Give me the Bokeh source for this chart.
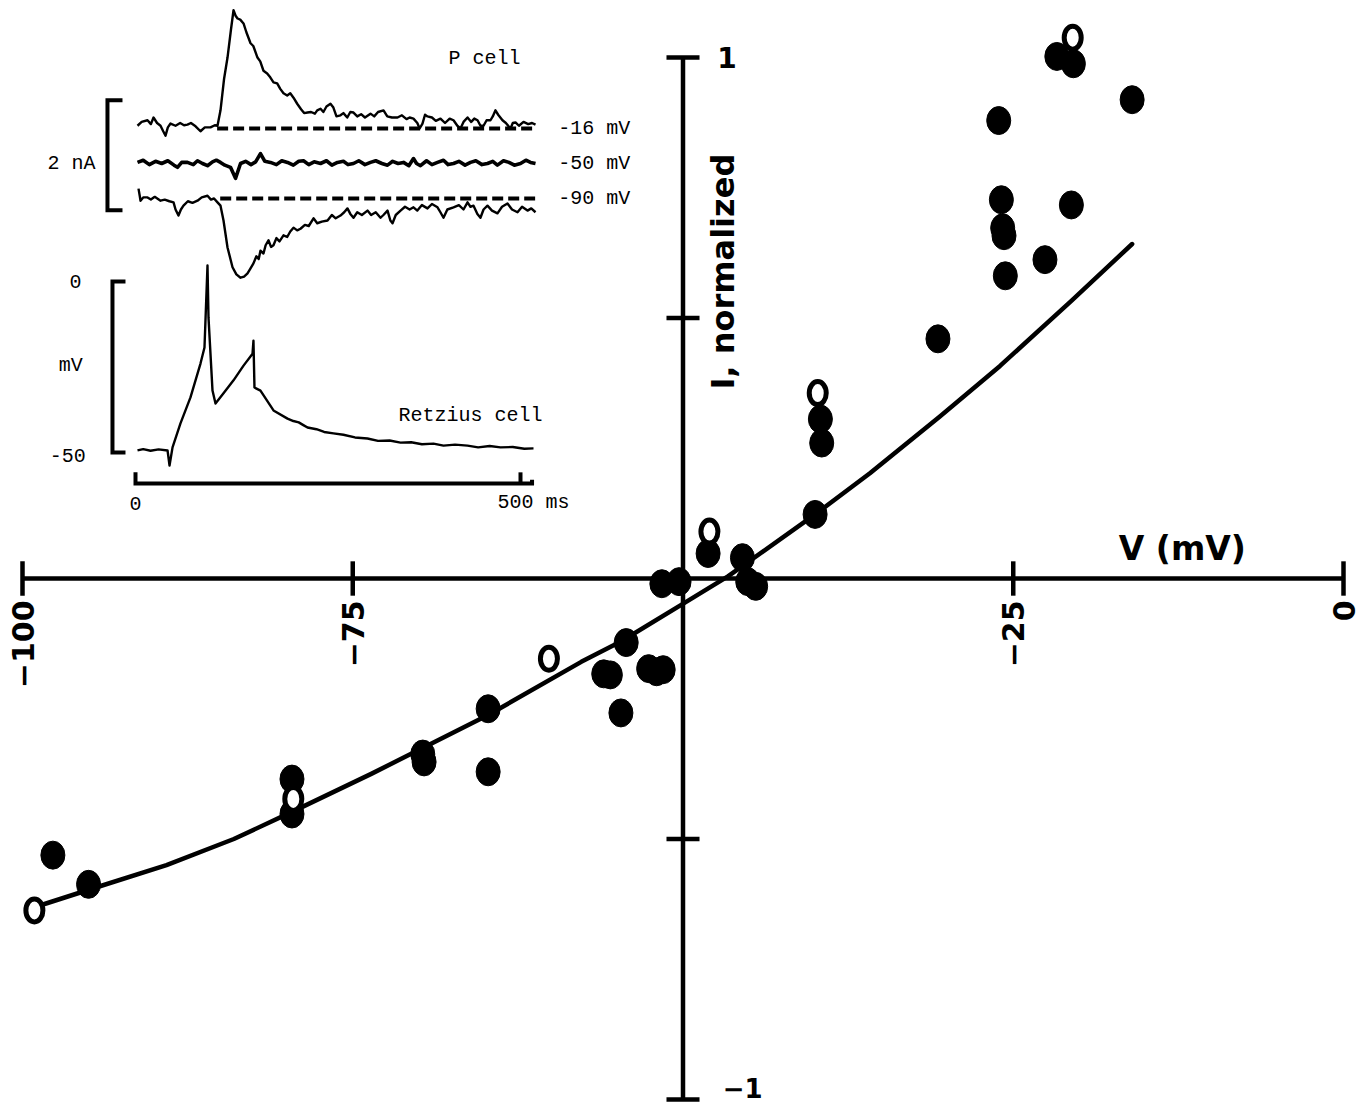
import math
from bokeh.plotting import figure
from bokeh.models import Range1d, Label
from bokeh.embed import file_html
from bokeh.resources import INLINE
from bokeh.core.properties import value

# ---------------- main I-V data (V in mV, I normalized) ----------------
curve_v = [-99.1, -94.8, -89.1, -84.0, -79.6, -73.6, -64.75, -57.7, -54.7,
           -49.7, -46.6, -40.0, -35.85, -30.6, -26.0, -20.6, -16.0]
curve_i = [-0.631, -0.596, -0.550, -0.500, -0.448, -0.375, -0.262, -0.160, -0.121,
           -0.044, 0.004, 0.123, 0.202, 0.310, 0.408, 0.533, 0.642]

filled_v = [-97.7, -95.0, -79.6, -79.6, -69.7, -69.6, -64.75, -64.75, -56.0, -55.5,
            -54.7, -54.3, -52.6, -52.0, -51.5, -51.6, -50.3, -48.1, -45.5, -45.1,
            -44.5, -40.0, -39.6, -39.5, -30.7, -26.1, -25.9, -25.8, -25.7, -25.6,
            -22.6, -21.7, -20.45, -20.6, -16.0]
filled_i = [-0.531, -0.587, -0.385, -0.452, -0.337, -0.352, -0.250, -0.371, -0.183, -0.185,
            -0.258, -0.123, -0.173, -0.179, -0.175, -0.010, -0.006, 0.048, 0.040, -0.006,
            -0.015, 0.123, 0.306, 0.260, 0.460, 0.879, 0.727, 0.673, 0.658, 0.581,
            0.612, 1.002, 0.988, 0.717, 0.919]

open_v = [-99.1, -79.5, -60.15, -48.0, -39.8, -20.5]
open_i = [-0.637, -0.423, -0.154, 0.090, 0.356, 1.038]

xtick_v = [-100, -75, -25, 0]
xtick_labels = ["\u2212100", "\u221275", "\u221225", "0"]
ytick_i = [1, 0.5, -0.5, -1]

# ---------------- inset: P cell currents, (t ms, I nA) ----------------
trace_m16 = [(2.6, 0.05), (8, 0.12), (15.6, 0.15), (20, 0.08), (23.4, 0.2), (28, 0.1),
             (32.5, 0.05), (36, -0.05), (39, -0.13), (42, 0.02), (45.5, 0.09), (52, 0.05),
             (58, 0.1), (63, 0.06), (67.5, 0.07), (72, 0.1), (78, 0.04), (84.4, -0.05),
             (90, 0.02), (97.4, 0.02), (103, 0.06), (106.5, 0.05), (110.4, 0.33), (115, 0.9),
             (119.5, 1.29), (124, 1.8), (127.3, 2.15), (130, 2.05), (132.5, 2.0), (136, 1.98),
             (140.3, 1.91), (144, 1.75), (149.4, 1.55), (153, 1.5), (158.4, 1.29), (162, 1.22),
             (166.2, 1.05), (171, 1.0), (175, 0.93), (179.2, 0.84), (184, 0.82), (188, 0.72),
             (192.2, 0.64), (197, 0.6), (201, 0.64), (205.2, 0.56), (210, 0.45), (215, 0.35),
             (219, 0.28), (223.4, 0.29), (228, 0.3), (233, 0.27), (236, 0.33), (240.3, 0.36),
             (244, 0.3), (248, 0.4), (253.2, 0.45), (257, 0.38), (261, 0.22), (266.2, 0.24),
             (270, 0.28), (275, 0.2), (279, 0.3), (283.1, 0.29), (288, 0.22), (293, 0.26),
             (298, 0.2), (305.2, 0.27), (310, 0.22), (315, 0.3), (322.1, 0.33), (327, 0.22),
             (333, 0.2), (340.3, 0.2), (346, 0.24), (352, 0.17), (356, 0.2), (361, 0.18),
             (366, 0.1), (369, 0.0), (372.7, 0.09), (376, 0.25), (379.2, 0.22), (385, 0.2),
             (390, 0.14), (396.1, 0.18), (402, 0.1), (408, 0.18), (413, 0.15), (418, 0.05),
             (422, 0.0), (426, 0.12), (431.2, 0.2), (436, 0.12), (440, 0.18), (444.2, 0.15),
             (448, 0.05), (452, 0.05), (456, 0.15), (461, 0.15), (464, 0.22), (467.5, 0.33),
             (471, 0.25), (476.6, 0.15), (481, 0.1), (487, 0.0), (490, 0.1), (493.5, 0.11),
             (498, 0.05), (503.9, 0.12), (510, 0.08), (515, 0.1), (519.5, 0.07)]

trace_m50 = [(2.6, 0.02), (10, 0.06), (18, -0.02), (26, 0.04), (34, 0.0), (42, 0.05),
             (50, -0.03), (54.5, -0.07), (60, 0.02), (67.5, 0.02), (75, -0.02), (80.5, 0.05),
             (87, 0.0), (93.5, -0.04), (100, 0.03), (105, 0.06), (110.4, 0.02), (116, -0.03),
             (123.4, -0.07), (129.9, -0.27), (136.4, 0.0), (143, 0.04), (150, -0.02),
             (156, 0.03), (162.3, 0.18), (168, 0.04), (175.3, 0.02), (183, -0.02), (190, 0.05),
             (197.4, 0.02), (205, -0.03), (212, 0.04), (218.2, 0.05), (225, -0.02), (232, 0.03),
             (240.3, 0.0), (248, 0.05), (255, -0.03), (262.3, 0.02), (270, 0.04), (276, -0.02),
             (283.1, 0.0), (290, 0.05), (298, -0.02), (305.2, 0.02), (312, 0.05), (320, 0.0),
             (327.3, -0.03), (334, 0.04), (341, 0.0), (348.1, 0.02), (355, -0.04), (361, 0.09),
             (365, 0.0), (370.1, -0.04), (378, 0.05), (385, -0.02), (392.2, 0.02), (400, 0.06),
             (406, -0.02), (413, 0.0), (420, 0.04), (428, -0.03), (435.1, 0.02), (442, 0.05),
             (450, -0.02), (457.1, 0.0), (464, 0.04), (470, -0.03), (477.9, 0.05), (485, 0.02),
             (492, -0.03), (500, 0.0), (507, 0.06), (513, 0.02), (519.5, 0.0)]

trace_m90 = [(3.9, 0.18), (5.5, 0.05), (6.5, -0.04), (10, 0.02), (15.6, 0.02), (20, -0.02),
             (25, 0.03), (32.5, -0.04), (38, -0.02), (44, -0.05), (49.4, -0.07), (52, -0.2),
             (55.8, -0.31), (59, -0.2), (62.3, -0.13), (68, -0.05), (74, -0.08), (80.5, -0.04),
             (86, 0.02), (93.5, 0.05), (98, -0.02), (102, 0.0), (106.5, -0.07), (110.4, -0.13),
             (114.3, -0.40), (119.5, -0.89), (126, -1.25), (131, -1.38), (136.4, -1.44),
             (141, -1.42), (145.5, -1.36), (149, -1.28), (153.2, -1.18), (157, -1.05),
             (160, -1.1), (162.3, -0.95), (166.2, -1.0), (169, -0.85), (172.7, -0.76),
             (176, -0.88), (179.2, -0.85), (183, -0.72), (187, -0.78), (192.2, -0.67),
             (197, -0.7), (201, -0.6), (205.2, -0.53), (210, -0.58), (214.3, -0.55),
             (220, -0.48), (225, -0.5), (231.2, -0.36), (236, -0.45), (242, -0.42),
             (249.4, -0.40), (255, -0.3), (260, -0.36), (266.2, -0.31), (271, -0.25),
             (275.3, -0.18), (279, -0.28), (283.1, -0.35), (288, -0.25), (294, -0.3),
             (301.3, -0.22), (306, -0.3), (312, -0.25), (318.2, -0.35), (322, -0.3),
             (327.3, -0.22), (331, -0.4), (333.8, -0.45), (338, -0.3), (344.2, -0.22),
             (350, -0.15), (356, -0.2), (361, -0.16), (366, -0.22), (372, -0.12),
             (379.2, -0.18), (385, -0.1), (392.2, -0.16), (396, -0.25), (400, -0.35),
             (405, -0.2), (413, -0.16), (420, -0.12), (426, -0.2), (431.2, -0.07),
             (435, -0.15), (439, -0.13), (444, -0.28), (448, -0.35), (452, -0.2),
             (457.1, -0.13), (463, -0.22), (470.1, -0.27), (476, -0.15), (483.1, -0.09),
             (489, -0.2), (496.1, -0.25), (502, -0.15), (509.1, -0.22), (514, -0.18),
             (519.5, -0.25)]

# ---------------- inset: Retzius cell voltage, (t ms, V mV) ----------------
trace_retzius = [(2.6, -49.4), (10, -49.0), (19.5, -49.5), (30, -49.1), (41.6, -49.4),
                 (44.2, -53.8), (48.1, -48.5), (58.4, -41.5), (71.4, -33.9), (84.4, -24.0),
                 (89.6, -19.3), (93.5, 4.7), (94.8, -10.5), (100, -31.9), (103.9, -35.7),
                 (114.3, -32.7), (127.3, -28.9), (140.3, -24.6), (152, -21.1), (153.2, -17.3),
                 (154.5, -31.0), (162.3, -31.9), (179.2, -37.7), (197.4, -40.1), (205, -40.8),
                 (212, -41.2), (218, -42.0), (223.4, -42.7), (235, -43.2), (245, -44.0),
                 (257.1, -44.4), (270, -44.8), (285, -45.6), (301.3, -45.9), (315, -46.6),
                 (330, -46.5), (344.2, -47.1), (358, -47.0), (372, -47.6), (387, -47.4),
                 (400, -48.0), (415, -47.7), (431.2, -48.0), (445, -48.5), (460, -48.1),
                 (474, -48.5), (490, -48.4), (505, -48.9), (516.9, -48.8)]

# ---------------- layout ----------------
W, H, M = 1362, 1110, 0


def xr(v0, px0, s):
    return Range1d(v0 + (M - px0) / s, v0 + (M + W - px0) / s)


def yr(v0, px0, s):
    return Range1d(v0 + (px0 - (M + H)) / s, v0 + (px0 - M) / s)


def unzip(pairs):
    return [a for a, _ in pairs], [b for _, b in pairs]


p = figure(width=W, height=H, x_range=xr(-100, 22, 13.21), y_range=yr(0, 578, 521),
           x_axis_type=None, y_axis_type=None, output_backend="svg",
           toolbar_location=None, min_border=0, outline_line_color=None)
p.grid.visible = False
p.background_fill_color = "white"
p.border_fill_color = "white"

p.extra_x_ranges = {"ms": xr(0, 135, 0.77)}
p.extra_y_ranges = {"i16": yr(0, 128, 55), "i50": yr(0, 163, 55),
                    "i90": yr(0, 198, 55), "mv": yr(0, 281, 3.42)}

AX = 4.5
SANS = "DejaVu Sans"
MONO = "Liberation Mono"

# main axes
p.line([xtick_v[0], xtick_v[-1]], [0, 0], line_width=AX, line_color="black")
p.segment(x0=xtick_v, y0=[-0.033] * 4, x1=xtick_v, y1=[0.033] * 4,
          line_width=AX, line_color="black")
p.line([-50, -50], [ytick_i[-1], ytick_i[0]], line_width=AX, line_color="black")
p.segment(x0=[-51.25] * 4, y0=ytick_i, x1=[-48.75] * 4, y1=ytick_i,
          line_width=AX, line_color="black")

p.text(x=xtick_v, y=[-0.042] * 4, text=xtick_labels, angle=math.pi / 2,
       text_align="right", text_baseline="middle", text_font=value(SANS),
       text_font_style="bold", text_font_size="30px", text_color="black")

p.add_layout(Label(x=-47.4, y=1.0, text="1", text_align="left", text_baseline="middle",
                   text_font=SANS, text_font_style="bold", text_font_size="28px",
                   text_color="black"))
p.add_layout(Label(x=-47.0, y=-0.978, text="\u22121", text_align="left",
                   text_baseline="middle", text_font=SANS, text_font_style="bold",
                   text_font_size="26px", text_color="black"))
p.add_layout(Label(x=-47.0, y=0.589, text="I, normalized", angle=math.pi / 2,
                   text_align="center", text_baseline="middle",
                   text_font=SANS, text_font_style="bold", text_font_size="32px",
                   text_color="black"))
p.add_layout(Label(x=-12.2, y=0.058, text="V (mV)", text_align="center",
                   text_baseline="middle", text_font=SANS, text_font_style="bold",
                   text_font_size="33px", text_color="black"))

# fitted curve and data
p.line(curve_v, curve_i, line_width=4.5, line_color="black", line_join="round",
       line_cap="round")
p.ellipse(x=filled_v, y=filled_i, width=24, height=28, width_units="screen",
          height_units="screen", fill_color="black", line_color="black", line_width=1)
p.ellipse(x=open_v, y=open_i, width=17, height=23, width_units="screen",
          height_units="screen", fill_color="white", line_color="black", line_width=5)

# ---------------- inset ----------------
TW = 2.4
t, v = unzip(trace_m16)
p.line(t, v, x_range_name="ms", y_range_name="i16", line_width=TW,
       line_color="black", line_join="round")
t, v = unzip(trace_m50)
p.line(t, v, x_range_name="ms", y_range_name="i50", line_width=TW + 1.2,
       line_color="black", line_join="round")
t, v = unzip(trace_m90)
p.line(t, v, x_range_name="ms", y_range_name="i90", line_width=TW,
       line_color="black", line_join="round")
p.line([106, 519], [0, 0], x_range_name="ms", y_range_name="i16", line_width=4,
       line_color="black", line_dash="11 5")
p.line([110, 519], [0, 0], x_range_name="ms", y_range_name="i90", line_width=4,
       line_color="black", line_dash="11 5")

t, v = unzip(trace_retzius)
p.line(t, v, x_range_name="ms", y_range_name="mv", line_width=TW,
       line_color="black", line_join="round")

# 2 nA scale bracket
p.line([-16.9, -36.4, -36.4, -16.9], [1.15, 1.15, -0.85, -0.85], x_range_name="ms",
       y_range_name="i50", line_width=4, line_color="black", line_join="miter")
# mV scale bracket (0 to -50 mV)
p.line([-13.0, -29.9, -29.9, -13.0], [0, 0, -50, -50], x_range_name="ms",
       y_range_name="mv", line_width=4, line_color="black", line_join="miter")
# time bar 0-500 ms
p.line([0, 0, 515, 515], [-55.8, -59.1, -59.1, -58.0], x_range_name="ms",
       y_range_name="mv", line_width=4, line_color="black", line_join="miter")
p.line([500, 500], [-55.8, -59.1], x_range_name="ms", y_range_name="mv",
       line_width=4, line_color="black")


def ilabel(x, y, text, yname, align="left"):
    p.add_layout(Label(x=x, y=y, text=text, x_range_name="ms", y_range_name=yname,
                       text_align=align, text_baseline="middle", text_font=MONO,
                       text_font_size="20px", text_color="black"))


ilabel(406.5, 1.27, "P cell", "i16")
ilabel(549, 0, "-16 mV", "i16")
ilabel(549, 0, "-50 mV", "i50")
ilabel(549, 0, "-90 mV", "i90")
ilabel(-52, 0, "2 nA", "i50", align="right")
ilabel(-78, 0, "0", "mv", align="center")
ilabel(-84, -24.6, "mV", "mv", align="center")
ilabel(-88, -50.9, "-50", "mv", align="center")
ilabel(341.6, -39.2, "Retzius cell", "mv")
ilabel(0, -64.9, "0", "mv", align="center")
ilabel(470, -64.6, "500 ms", "mv")

open("out.html", "w").write(file_html(p, INLINE))
